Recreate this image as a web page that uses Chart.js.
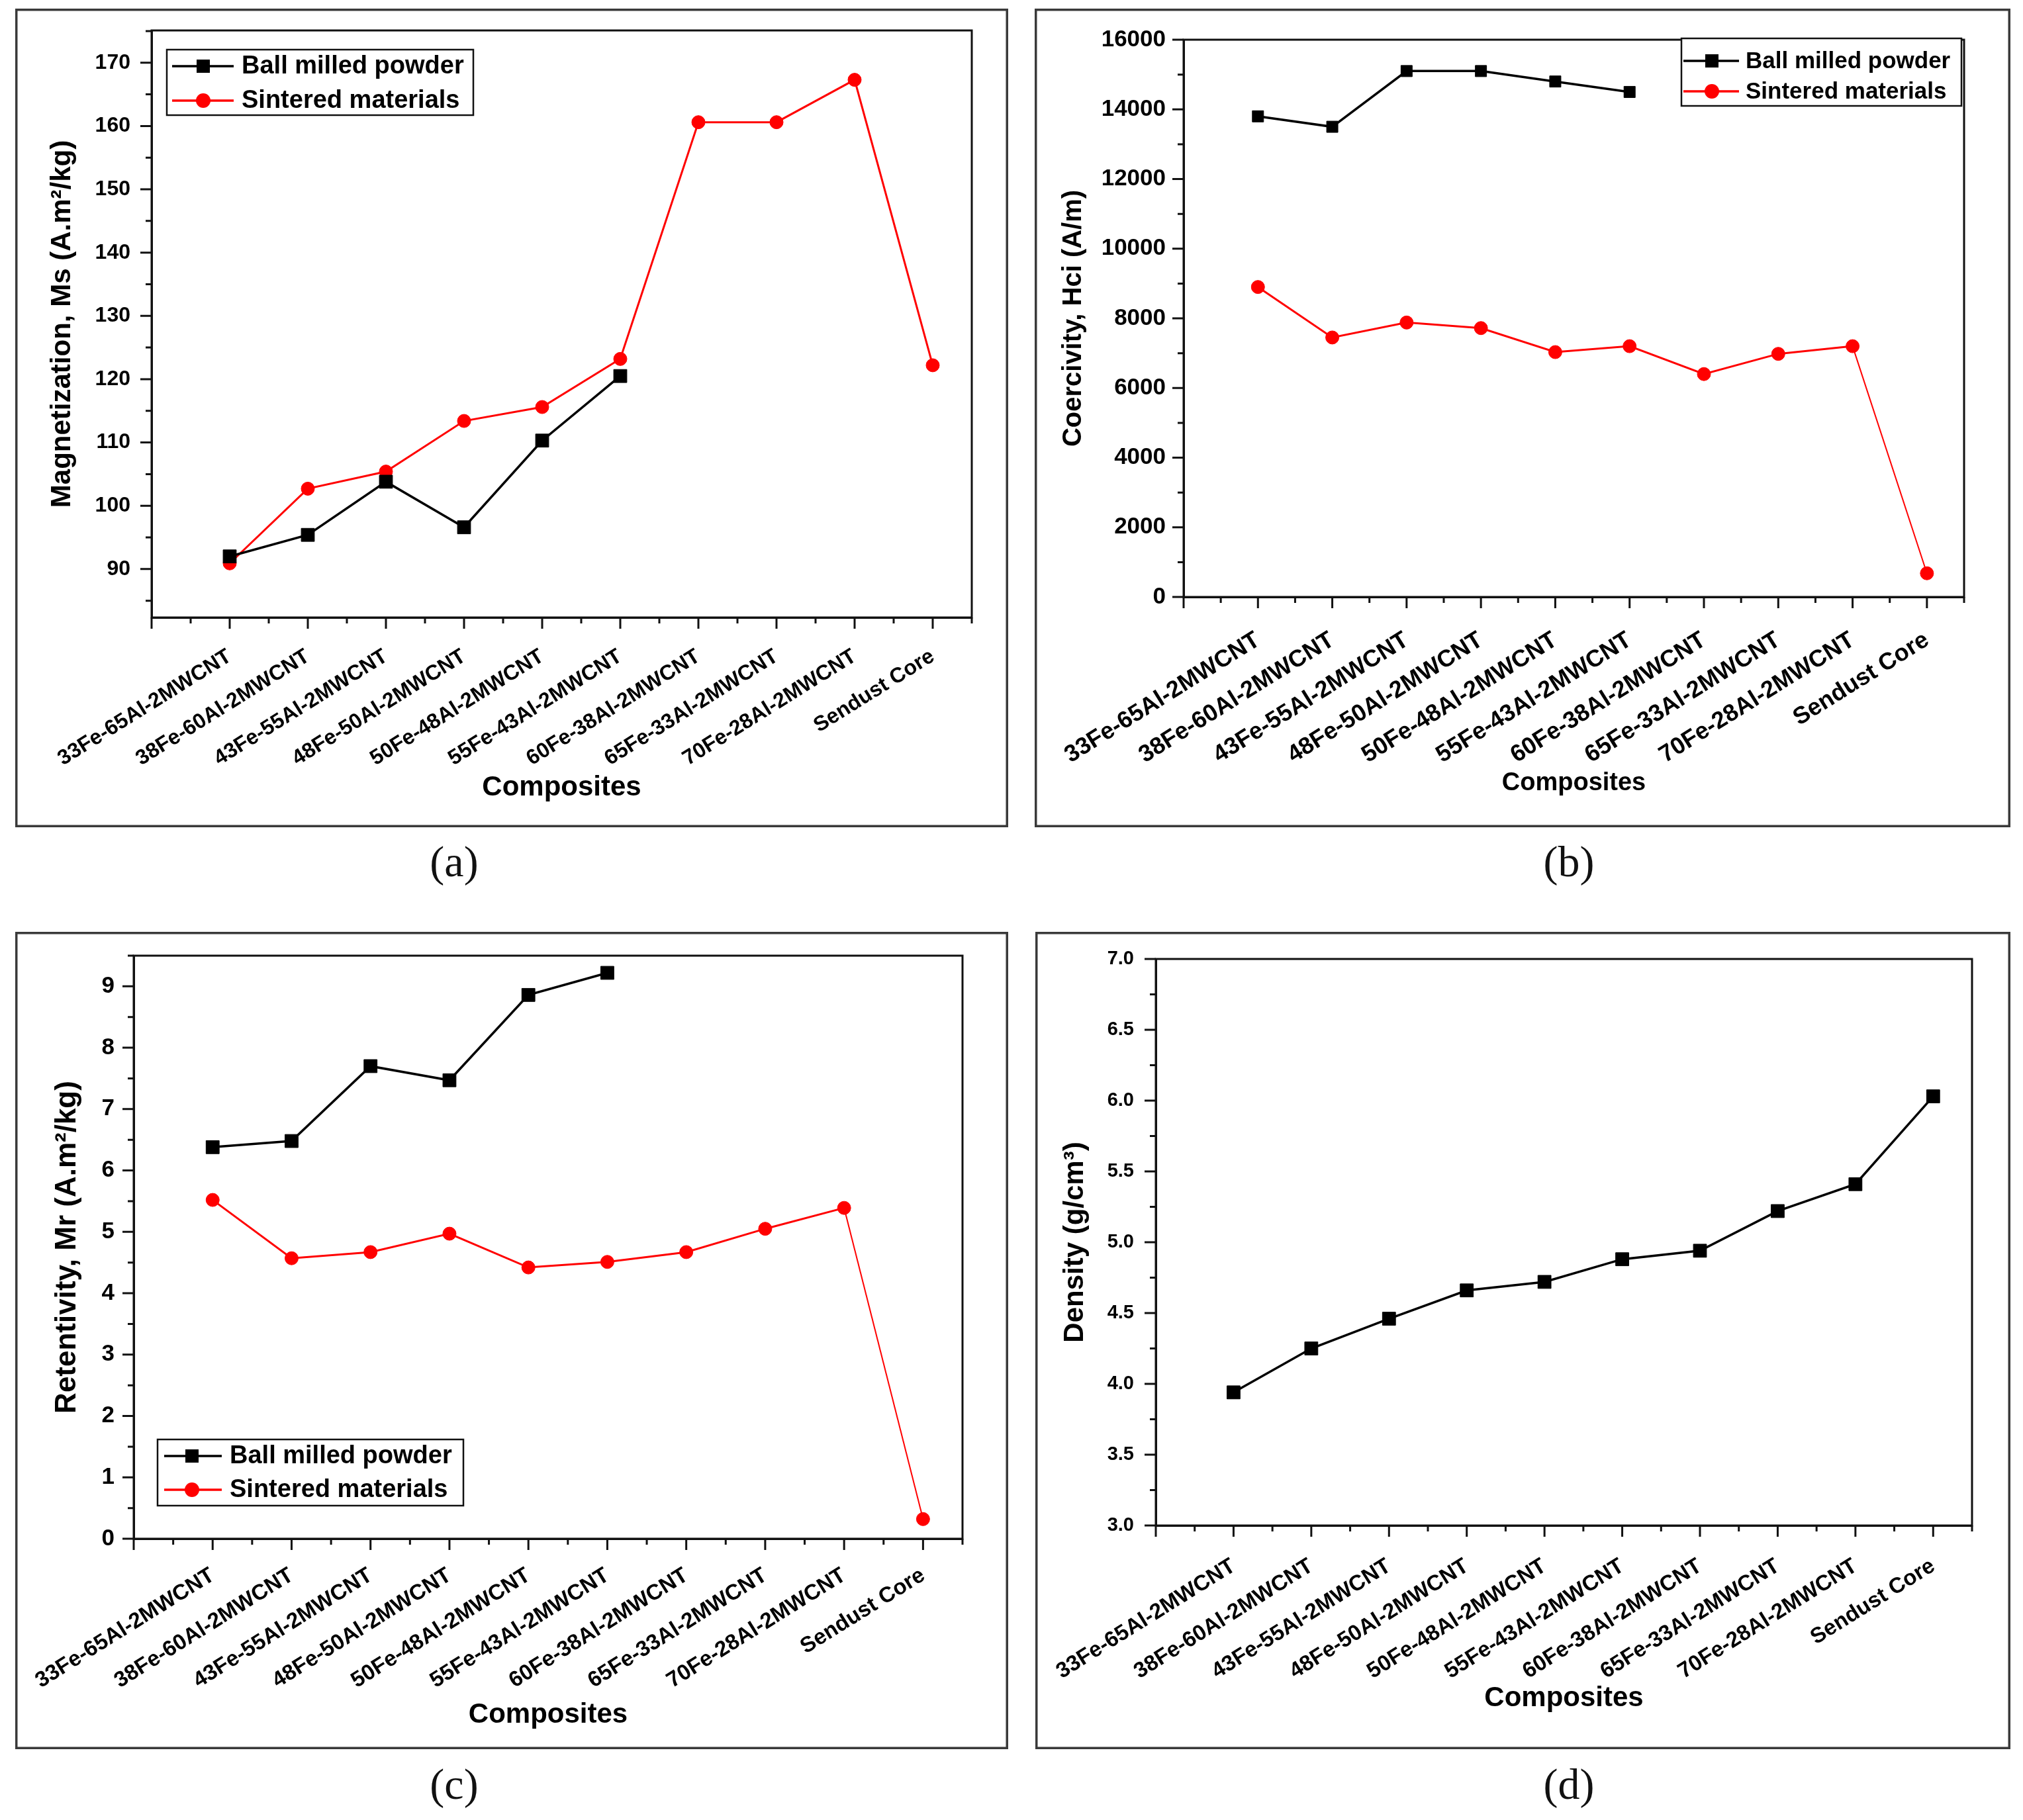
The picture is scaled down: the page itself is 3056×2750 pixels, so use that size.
<!DOCTYPE html>
<html>
<head>
<meta charset="utf-8">
<script src="https://cdn.jsdelivr.net/npm/chart.js@4.4.1/dist/chart.umd.min.js"></script>
<style>
  html, body { margin: 0; padding: 0; background: #fff; }
  body { position: relative; width: 3056px; height: 2750px; overflow: hidden; }
  canvas { position: absolute; }
  .lbl { position: absolute; font-family: 'Liberation Serif', 'DejaVu Serif', serif; font-size: 66px; color: #111; transform: translate(-50%, -50%); }
</style>
</head>
<body>
<canvas id="c-ms"  width="1500" height="1237" style="left:23px;top:13px"></canvas>
<canvas id="c-hci" width="1474" height="1237" style="left:1563px;top:13px"></canvas>
<canvas id="c-mr"  width="1500" height="1235" style="left:23px;top:1408px"></canvas>
<canvas id="c-den" width="1473" height="1235" style="left:1564px;top:1408px"></canvas>
<div class="lbl" style="left:686px;top:1302px">(a)</div>
<div class="lbl" style="left:2370px;top:1302px">(b)</div>
<div class="lbl" style="left:686px;top:2696px">(c)</div>
<div class="lbl" style="left:2370px;top:2696px">(d)</div>
<script>
const categories = ['33Fe-65Al-2MWCNT', '38Fe-60Al-2MWCNT', '43Fe-55Al-2MWCNT', '48Fe-50Al-2MWCNT',
  '50Fe-48Al-2MWCNT', '55Fe-43Al-2MWCNT', '60Fe-38Al-2MWCNT', '65Fe-33Al-2MWCNT',
  '70Fe-28Al-2MWCNT', 'Sendust Core'];
const seriesNames = ['Ball milled powder', 'Sintered materials'];

// (a) saturation magnetization
const msBall     = [92.0, 95.4, 103.8, 96.6, 110.3, 120.5];
const msSintered = [90.9, 102.7, 105.4, 113.4, 115.6, 123.2, 160.6, 160.6, 167.3, 122.2];
// (b) coercivity
const hciBall     = [13800, 13500, 15100, 15100, 14800, 14500];
const hciSintered = [8900, 7450, 7880, 7720, 7030, 7200, 6400, 6980, 7200, 680];
// (c) retentivity
const mrBall     = [6.38, 6.48, 7.70, 7.47, 8.86, 9.22];
const mrSintered = [5.52, 4.57, 4.67, 4.97, 4.42, 4.51, 4.67, 5.05, 5.39, 0.32];
// (d) density
const density = [3.94, 4.25, 4.46, 4.66, 4.72, 4.88, 4.94, 5.22, 5.41, 6.03];

// y axis ranges: [min, max, major step, minor step]
const msAxis  = [82.35, 175.1, 10, 5];
const hciAxis = [0, 16000, 2000, 1000];
const mrAxis  = [0, 9.5, 1, 0.5];
const denAxis = [3.0, 7.0, 0.5, 0.25];

const FONT = "'Liberation Sans', Arial, sans-serif";
const pts = arr => arr.map((v, i) => ({ x: i, y: v }));

const frameAndTicks = {
  id: 'frameAndTicks',
  afterDraw(chart) {
    const { ctx, chartArea: a, scales: { x, y } } = chart;
    const o = chart.options.plugins.frameAndTicks;
    ctx.save();
    // outer panel frame
    ctx.strokeStyle = '#3a3a3a';
    ctx.lineWidth = 3.5;
    ctx.strokeRect(1.75, 1.75, chart.width - 3.5, chart.height - 3.5);
    // plot box
    ctx.strokeStyle = '#111';
    ctx.lineWidth = 3;
    ctx.strokeRect(a.left, a.top, a.right - a.left, a.bottom - a.top);
    ctx.beginPath();
    const eps = 1e-6;
    let v = Math.ceil((y.min - eps) / o.minor) * o.minor;
    for (; v <= y.max + eps; v += o.minor) {
      const py = y.getPixelForValue(v);
      const major = Math.abs(v / o.major - Math.round(v / o.major)) < 1e-6;
      ctx.moveTo(a.left, py);
      ctx.lineTo(a.left - (major ? 17 : 9), py);
    }
    for (let i = -1; i <= 9.5 + eps; i += 0.5) {
      const px = x.getPixelForValue(i);
      const major = Number.isInteger(i);
      ctx.moveTo(px, a.bottom);
      ctx.lineTo(px, a.bottom + (major ? 17 : 9));
    }
    ctx.stroke();
    ctx.restore();
  }
};

const boxLegend = {
  id: 'boxLegend',
  afterDraw(chart) {
    const o = chart.options.plugins.boxLegend;
    if (!o || !o.show) return;
    const ctx = chart.ctx;
    ctx.save();
    ctx.fillStyle = '#fff';
    ctx.fillRect(o.x, o.y, o.w, o.h);
    ctx.strokeStyle = '#111';
    ctx.lineWidth = 2.5;
    ctx.strokeRect(o.x, o.y, o.w, o.h);
    chart.data.datasets.forEach((ds, k) => {
      const ry = o.rows[k];
      ctx.strokeStyle = ds.borderColor;
      ctx.fillStyle = ds.borderColor;
      ctx.lineWidth = 3.5;
      ctx.beginPath();
      ctx.moveTo(o.l0, ry); ctx.lineTo(o.l1, ry);
      ctx.stroke();
      ctx.beginPath();
      if (ds.pointStyle === 'rect') ctx.rect(o.m - 10, ry - 10, 20, 20);
      else ctx.arc(o.m, ry, 11, 0, Math.PI * 2);
      ctx.fill();
      ctx.fillStyle = '#000';
      ctx.font = 'bold ' + o.size + 'px ' + FONT;
      ctx.textBaseline = 'middle';
      ctx.textAlign = 'left';
      ctx.fillText(ds.label, o.t, ry + 1);
    });
    ctx.restore();
  }
};

function blackSet(data, r) {
  return { label: seriesNames[0], data: pts(data), borderColor: '#000', backgroundColor: '#000',
    borderWidth: 3.5, pointStyle: 'rect', pointRadius: r, pointBorderWidth: 1, tension: 0 };
}
function redSet(data, r, thinLast) {
  const ds = { label: seriesNames[1], data: pts(data), borderColor: '#ff0000', backgroundColor: '#ff0000',
    borderWidth: 3, pointStyle: 'circle', pointRadius: r, pointBorderWidth: 1, tension: 0 };
  if (thinLast) ds.segment = { borderWidth: c => c.p1DataIndex === data.length - 1 ? 2 : 3 };
  return ds;
}

function panel(id, datasets, p) {
  const [ymin, ymax, major, minor] = p.axis;
  return new Chart(document.getElementById(id), {
    type: 'line',
    data: { datasets },
    plugins: [frameAndTicks, boxLegend],
    options: {
      responsive: false,
      animation: false,
      layout: { padding: { top: p.top, right: p.right, left: 0, bottom: 0 } },
      plugins: {
        legend: { display: false },
        tooltip: { enabled: false },
        frameAndTicks: { major, minor },
        boxLegend: p.legend || { show: false }
      },
      scales: {
        x: {
          type: 'linear', min: -1, max: 9.5,
          afterFit: s => { s.height = p.xH; s.paddingLeft = 0; s.paddingRight = 0; },
          afterBuildTicks: s => { s.ticks = [-1].concat(categories.map((c, i) => i)).map(v => ({ value: v })); },
          ticks: {
            autoSkip: false, minRotation: 32, maxRotation: 32, padding: p.xPad, color: '#000',
            font: { family: FONT, size: p.xFont, weight: 'bold' },
            callback: v => categories[v] !== undefined ? categories[v] : ''
          },
          grid: { display: true, drawOnChartArea: false, drawTicks: false },
          border: { display: true, color: '#111', width: 3 },
          title: { display: true, text: 'Composites', color: '#000',
            font: { family: FONT, size: p.xtFont, weight: 'bold' },
            padding: { top: 0, bottom: p.xtPad } }
        },
        y: {
          min: ymin, max: ymax,
          afterFit: s => { s.width = p.yW; s.paddingTop = 0; s.paddingBottom = 0; },
          ticks: {
            stepSize: major, includeBounds: false, padding: p.yPad, color: '#000',
            font: { family: FONT, size: p.yFont, weight: 'bold' },
            callback: p.yFmt
          },
          grid: { display: true, drawOnChartArea: false, drawTicks: false },
          border: { display: true, color: '#111', width: 3 },
          title: { display: true, text: p.yTitle, color: '#000',
            font: { family: FONT, size: p.ytFont, weight: 'bold' },
            padding: { top: p.ytPad, bottom: 0 } }
        }
      }
    }
  });
}

panel('c-ms', [blackSet(msBall, 14), redSet(msSintered, 10, false)], {
  axis: msAxis, top: 33, right: 55, yW: 206, xH: 317,
  xPad: 40, xFont: 32, xtFont: 42, xtPad: 34,
  yPad: 32, yFont: 32, ytFont: 42, ytPad: 46,
  yTitle: 'Magnetization, Ms (A.m²/kg)', yFmt: v => String(Math.round(v)),
  legend: { show: true, x: 229, y: 62, w: 463, h: 99, rows: [87, 139], l0: 237, l1: 330, m: 284, t: 342, size: 38 }
});

panel('c-hci', [blackSet(hciBall, 12), redSet(hciSintered, 10, true)], {
  axis: hciAxis, top: 47, right: 70, yW: 225, xH: 348,
  xPad: 44, xFont: 36, xtFont: 38, xtPad: 44,
  yPad: 27, yFont: 35, ytFont: 40, ytPad: 35,
  yTitle: 'Coercivity, Hci (A/m)', yFmt: v => String(Math.round(v)),
  legend: { show: true, x: 977, y: 45, w: 423, h: 102, rows: [79, 125], l0: 980, l1: 1064, m: 1023, t: 1074, size: 35 }
});

panel('c-mr', [blackSet(mrBall, 14), redSet(mrSintered, 10, true)], {
  axis: mrAxis, top: 36, right: 69, yW: 179, xH: 318,
  xPad: 36, xFont: 33, xtFont: 42, xtPad: 26,
  yPad: 29, yFont: 35, ytFont: 44, ytPad: 52,
  yTitle: 'Retentivity, Mr (A.m²/kg)', yFmt: v => String(Math.round(v)),
  legend: { show: true, x: 215, y: 767, w: 462, h: 100, rows: [792, 843], l0: 225, l1: 312, m: 267, t: 324, size: 38 }
});

panel('c-den', [blackSet(density, 14)], {
  axis: denAxis, top: 41, right: 58, yW: 182, xH: 338,
  xPad: 42, xFont: 33, xtFont: 42, xtPad: 51,
  yPad: 33, yFont: 29, ytFont: 42, ytPad: 35,
  yTitle: 'Density (g/cm³)', yFmt: v => v.toFixed(1)
});
</script>
</body>
</html>
